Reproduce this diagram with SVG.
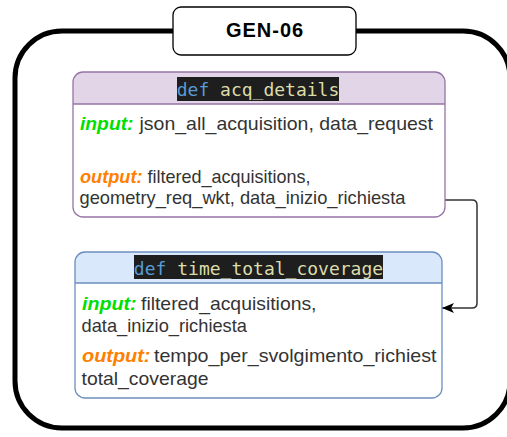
<svg xmlns="http://www.w3.org/2000/svg" width="507" height="437" viewBox="0 0 507 437">
  <defs>
    <style>
      .body { font-family: "Liberation Sans", Arial, sans-serif; font-size: 19px; fill: #333333; }
      .in { font-family: "Liberation Sans", Arial, sans-serif; font-size: 19px; font-weight: bold; font-style: italic; fill: #00e000; }
      .out { font-family: "Liberation Sans", Arial, sans-serif; font-size: 19px; font-weight: bold; font-style: italic; fill: #ff8000; }
      .code { font-family: "DejaVu Sans Mono", "Liberation Mono", monospace; font-size: 18px; }
      .kw { fill: #569cd6; }
      .fn { fill: #dcdcaa; }
      .codebg { fill: #1e1e1e; }
      .title { font-family: "Liberation Sans", Arial, sans-serif; font-size: 20px; font-weight: bold; fill: #000000; letter-spacing: 1px; }
      .conn { fill: none; stroke: #333333; stroke-width: 1.5; }
    </style>
    <marker id="arrow" viewBox="0 0 12 10" refX="12" refY="5" markerWidth="12" markerHeight="10" markerUnits="userSpaceOnUse" orient="auto">
      <path d="M0,0 L12,5 L0,10 L3,5 Z" fill="#000000"/>
    </marker>
  </defs>

  <g id="gen06">
    <rect x="15" y="31" width="495" height="397" rx="47" ry="47" fill="#ffffff" stroke="#000000" stroke-width="5"/>
    <rect x="173" y="7" width="183" height="48" rx="8" ry="8" fill="#ffffff" stroke="#000000" stroke-width="1.3"/>
    <text class="title" x="265" y="37" text-anchor="middle">GEN-06</text>
  </g>

  <g id="connectors">
    <path class="conn" d="M445,200 H472 Q477,200 477,205 V303 Q477,308 472,308 H442" marker-end="url(#arrow)"/>
  </g>

  <g id="acq_details">
    <rect x="73" y="72" width="372" height="145" rx="10" ry="10" fill="#ffffff"/>
    <path d="M73,104 V82 A10,10 0 0 1 83,72 H435 A10,10 0 0 1 445,82 V104 Z" fill="#e1d5e7"/>
    <line x1="73" y1="104" x2="445" y2="104" stroke="#9673a6" stroke-width="1.3"/>
    <rect x="73" y="72" width="372" height="145" rx="10" ry="10" fill="none" stroke="#9673a6" stroke-width="1.3"/>
    <rect class="codebg" x="177" y="77" width="162" height="24"/>
    <text class="code" x="258" y="96" text-anchor="middle"><tspan class="kw">def</tspan><tspan class="fn"> acq_details</tspan></text>
    <text class="in" x="80" y="130" textLength="53.5" lengthAdjust="spacingAndGlyphs">input:</text>
    <text class="body" x="139.5" y="130" textLength="293.5" lengthAdjust="spacingAndGlyphs">json_all_acquisition, data_request</text>
    <text class="out" x="80" y="183" textLength="62.5" lengthAdjust="spacingAndGlyphs">output:</text>
    <text class="body" x="147.5" y="183" textLength="163" lengthAdjust="spacingAndGlyphs">filtered_acquisitions,</text>
    <text class="body" x="79.5" y="204" textLength="326" lengthAdjust="spacingAndGlyphs">geometry_req_wkt, data_inizio_richiesta</text>
  </g>

  <g id="time_total_coverage">
    <rect x="75" y="252" width="367" height="146" rx="10" ry="10" fill="#ffffff"/>
    <path d="M75,283 V262 A10,10 0 0 1 85,252 H432 A10,10 0 0 1 442,262 V283 Z" fill="#dae8fc"/>
    <line x1="75" y1="283" x2="442" y2="283" stroke="#6c8ebf" stroke-width="1.3"/>
    <rect x="75" y="252" width="367" height="146" rx="10" ry="10" fill="none" stroke="#6c8ebf" stroke-width="1.3"/>
    <rect class="codebg" x="134" y="255" width="249" height="24"/>
    <text class="code" x="258.5" y="274.5" text-anchor="middle"><tspan class="kw">def</tspan><tspan class="fn"> time_total_coverage</tspan></text>
    <text class="in" x="82" y="310" textLength="54.5" lengthAdjust="spacingAndGlyphs">input:</text>
    <text class="body" x="141" y="310" textLength="175.5" lengthAdjust="spacingAndGlyphs">filtered_acquisitions,</text>
    <text class="body" x="81.5" y="331.5" textLength="165.5" lengthAdjust="spacingAndGlyphs">data_inizio_richiesta</text>
    <text class="out" x="82" y="361.5" textLength="68.5" lengthAdjust="spacingAndGlyphs">output:</text>
    <text class="body" x="154" y="361.5" textLength="282.5" lengthAdjust="spacingAndGlyphs">tempo_per_svolgimento_richiest</text>
    <text class="body" x="81.5" y="385" textLength="127" lengthAdjust="spacingAndGlyphs">total_coverage</text>
  </g>
</svg>
